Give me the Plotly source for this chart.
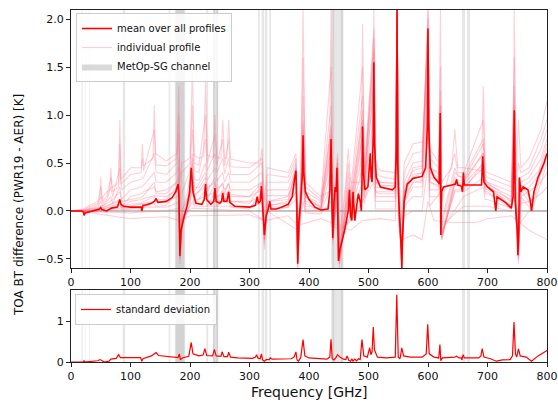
import plotly.graph_objects as go

# ---------------- data ----------------
# mean over all profiles: (frequency GHz, BT difference K)
mean_pts = [
    (0, 0), (18, 0), (21, -0.01), (22, -0.045), (24, -0.02), (30, -0.01), (45, 0.01), (48, 0.02),
    (50, 0.035), (52, 0.015), (60, 0.0), (65, 0.02), (68, 0.03), (78, 0.04), (80, 0.08), (82, 0.12),
    (84, 0.07), (88, 0.05), (100, 0.04), (118, 0.04), (119, 0.0), (121, 0.06), (124, 0.06), (135, 0.08),
    (140, 0.1), (143, 0.13), (146, 0.09), (160, 0.1), (170, 0.14), (176, 0.2), (180, 0.28), (181.5, 0.15),
    (183, -0.47), (185, -0.2), (190, -0.06), (195, 0.05), (199, 0.18), (202, 0.45), (205, 0.2), (210, 0.08),
    (220, 0.07), (224, 0.12), (226, 0.28), (228, 0.12), (235, 0.07), (240, 0.1), (242, 0.24), (244, 0.1),
    (250, 0.08), (253, 0.1), (255, 0.19), (257, 0.1), (262, 0.1), (265, 0.2), (267, 0.09), (275, 0.05),
    (300, 0.04), (310, 0.06), (313, 0.15), (315, 0.08), (318, 0.1), (320, 0.26), (322, 0.05), (325, -0.25),
    (328, -0.05), (332, 0.03), (334, 0.1), (336, 0.02), (345, 0.02), (350, 0.03), (365, 0.07), (372, 0.15),
    (376, 0.35), (378, 0.42), (379.5, 0.1), (381, -0.55), (383, -0.1), (386, 0.1), (389, 0.4), (390, 0.79),
    (391, 0.4), (394, 0.2), (400, 0.12), (410, 0.04), (420, 0.01), (432, 0.02), (435, 0.2), (437, 0.75),
    (438.5, 0.1), (440, -0.28), (442, 0.1), (444, 0.25), (446, 0.2), (447, 0.45), (448, 0.1), (449.5, -0.52),
    (452, -0.4), (460, -0.2), (466, 0.0), (468, 0.22), (470, -0.05), (472, -0.1), (474, 0.2), (476, 0.05),
    (477, -0.1), (480, 0.05), (483, 0.18), (486, 0.1), (488, 0.0), (489, 0.3), (490, 0.88), (491.5, 0.4),
    (494, 0.22), (499, 0.25), (502, 0.45), (503, 0.6), (504.5, 0.35), (506, 0.3), (508, 0.8), (509, 1.55),
    (510, 0.7), (513, 0.35), (520, 0.25), (540, 0.22), (545, 0.25), (547, 0.7), (548, 2.1), (549, 0.5),
    (551, 0.1), (553, -0.1), (555, -0.4), (556, -0.6), (557, -0.3), (560, 0.1), (565, 0.28), (575, 0.34),
    (590, 0.36), (596, 0.45), (599, 0.9), (600, 1.9), (601, 0.9), (604, 0.45), (610, 0.35), (617, 0.3),
    (619, 0.28), (620.5, 1.02), (621.5, -0.25), (623, 0.2), (626, 0.25), (640, 0.27), (646, 0.28),
    (648, 0.33), (650, 0.27), (656, 0.26), (658, 0.2), (659.5, 0.4), (661, 0.27), (664, 0.27), (690, 0.27),
    (692, 0.57), (694, 0.3), (700, 0.25), (710, 0.2), (714, 0.0), (716, 0.15), (730, 0.09), (740, 0.03),
    (743, 0.15), (745, 1.05), (746.5, 0.1), (748, -0.05), (750, -0.2), (751, -0.46), (752.5, -0.2),
    (753.5, 0.35), (756, 0.2), (760, 0.25), (768, 0.22), (772, 0.1), (774, 0.0), (778, 0.2), (785, 0.35),
    (795, 0.5), (800, 0.6),
]

# standard deviation over profiles
std_pts = [
    (0, 0), (18, 0.0), (21, 0.0), (22, 0.04), (23, 0.0), (30, 0.01), (45, 0.03), (49, 0.06), (52, 0.03),
    (56, 0.0), (64, 0.02), (67, 0.07), (76, 0.09), (80, 0.18), (83, 0.11), (95, 0.11), (117, 0.11),
    (119, 0.02), (121, 0.08), (135, 0.15), (143, 0.23), (147, 0.16), (170, 0.13), (180, 0.11), (182, 0.2),
    (184, 0.05), (187, 0.1), (198, 0.14), (202, 0.48), (205, 0.2), (215, 0.15), (222, 0.17), (225, 0.33),
    (228, 0.16), (238, 0.15), (241, 0.31), (244, 0.15), (252, 0.14), (254, 0.25), (257, 0.13), (263, 0.13),
    (265, 0.24), (268, 0.12), (280, 0.1), (305, 0.09), (310, 0.12), (312, 0.18), (314, 0.1), (318, 0.08),
    (320, 0.2), (322, 0.05), (325, 0.02), (328, 0.06), (333, 0.06), (335, 0.1), (338, 0.07), (370, 0.08),
    (375, 0.12), (378, 0.25), (380, 0.05), (382, 0.02), (386, 0.1), (390, 0.55), (393, 0.15), (400, 0.1),
    (430, 0.07), (435, 0.12), (437, 0.56), (439, 0.08), (442, 0.05), (445, 0.1), (448, 0.18), (452, 0.12),
    (458, 0.07), (462, 0.06), (464, 0.15), (467, 0.04), (470, 0.02), (472, 0.08), (474, 0.02), (477, 0.07),
    (480, 0.03), (483, 0.08), (486, 0.06), (489, 0.55), (492, 0.15), (498, 0.12), (502, 0.35), (504, 0.18),
    (506, 0.25), (508, 0.86), (510, 0.3), (515, 0.12), (530, 0.1), (545, 0.12), (547.5, 1.65), (550, 0.12),
    (553, 0.08), (556, 0.35), (559, 0.15), (570, 0.12), (590, 0.12), (597, 0.2), (599.5, 0.93), (602, 0.2),
    (610, 0.12), (618, 0.1), (620, 0.43), (621.5, 0.03), (624, 0.1), (645, 0.12), (648, 0.14), (652, 0.1),
    (656, 0.1), (657, 0.05), (659, 0.18), (661, 0.1), (685, 0.1), (689, 0.15), (691, 0.33), (694, 0.12),
    (705, 0.08), (715, 0.02), (725, 0.05), (738, 0.06), (742, 0.15), (744.5, 0.98), (747, 0.2), (749, 0.12),
    (752, 0.32), (755, 0.15), (765, 0.12), (774, 0.02), (785, 0.15), (800, 0.28),
]

# a selection of individual profiles
prof_a = [
    (0, 0), (20, 0.02), (45, 0.1), (48, 0.12), (50, 0.35), (52, 0.13), (60, 0.2), (65, 0.22), (67, 0.45),
    (69, 0.24), (80, 0.3), (82, 0.95), (84, 0.33), (100, 0.45), (118, 0.45), (120, 0.7), (122, 0.47),
    (138, 0.55), (140, 1.1), (142, 0.6), (160, 0.52), (178, 0.6), (181, 1.3), (183, 0.3), (186, 0.5),
    (200, 0.55), (204, 1.48), (207, 0.58), (215, 0.55), (223, 0.57), (226, 1.35), (229, 0.58), (239, 0.56),
    (242, 1.0), (245, 0.56), (252, 0.55), (255, 0.95), (258, 0.55), (262, 0.55), (265, 0.95), (268, 0.54),
    (300, 0.5), (318, 0.5), (321, 0.65), (325, 0.1), (330, 0.45), (365, 0.4), (378, 0.6), (381, -0.2),
    (386, 0.3), (390, 2.1), (394, 0.3), (420, 0.15), (434, 0.2), (437, 2.1), (440, 0.0), (448, 0.6),
    (451, -0.3), (462, 0.3), (466, 0.65), (470, 0.3), (487, 0.3), (490, 1.95), (493, 0.45), (506, 0.6),
    (509, 2.1), (512, 0.5), (520, 0.42), (545, 0.4), (548, 2.1), (551, 0.3), (556, -0.1), (560, 0.5),
    (575, 0.7), (590, 0.72), (598, 0.7), (600, 2.1), (603, 0.65), (618, 0.5), (621, 2.1), (623, 0.3),
    (640, 0.45), (645, 0.85), (650, 0.45), (660, 0.45), (690, 0.42), (693, 1.3), (696, 0.42), (700, 0.4),
    (740, 0.3), (743, 0.35), (745, 2.1), (748, 0.4), (752, 0.95), (756, 0.45), (770, 0.55), (790, 0.85),
    (800, 1.15),
]
prof_b = [
    (0, 0), (20, 0.01), (45, 0.08), (50, 0.25), (53, 0.1), (60, 0.15), (67, 0.35), (70, 0.2), (80, 0.25),
    (82, 0.7), (84, 0.28), (100, 0.38), (118, 0.4), (120, 0.55), (122, 0.42), (140, 0.85), (143, 0.48),
    (160, 0.47), (178, 0.55), (181, 1.0), (183, 0.0), (186, 0.4), (200, 0.5), (204, 1.1), (207, 0.5),
    (215, 0.48), (226, 1.0), (229, 0.5), (242, 0.8), (245, 0.48), (255, 0.75), (258, 0.47), (265, 0.75),
    (268, 0.46), (300, 0.45), (321, 0.55), (325, -0.1), (330, 0.38), (365, 0.35), (378, 0.55), (381, -0.4),
    (386, 0.25), (390, 1.6), (394, 0.25), (420, 0.12), (437, 1.5), (440, -0.1), (448, 0.55), (451, -0.45),
    (462, 0.2), (466, 0.5), (470, 0.2), (490, 1.5), (493, 0.4), (509, 1.9), (512, 0.4), (520, 0.36),
    (545, 0.33), (548, 2.1), (551, 0.2), (556, -0.3), (560, 0.4), (575, 0.6), (590, 0.62), (600, 1.9),
    (603, 0.55), (618, 0.45), (621, 1.5), (623, 0.1), (645, 0.6), (650, 0.4), (660, 0.4), (693, 0.95),
    (696, 0.38), (700, 0.35), (740, 0.25), (745, 1.6), (748, 0.3), (752, 0.5), (756, 0.4), (770, 0.45),
    (790, 0.75), (800, 0.95),
]
prof_c = [
    (0, 0), (20, 0.0), (45, 0.06), (50, 0.15), (53, 0.08), (60, 0.12), (67, 0.25), (70, 0.15), (82, 0.45),
    (85, 0.22), (100, 0.3), (118, 0.33), (122, 0.35), (140, 0.6), (143, 0.4), (160, 0.38), (178, 0.5),
    (181, 0.8), (183, -0.3), (187, 0.2), (200, 0.42), (204, 0.85), (207, 0.42), (215, 0.4), (226, 0.75),
    (229, 0.42), (242, 0.6), (245, 0.4), (255, 0.55), (258, 0.39), (265, 0.55), (268, 0.38), (300, 0.38),
    (321, 0.5), (325, -0.3), (330, 0.3), (365, 0.3), (378, 0.5), (381, -0.55), (386, 0.2), (390, 1.2),
    (394, 0.2), (420, 0.1), (437, 1.1), (440, -0.2), (448, 0.5), (451, -0.55), (462, 0.15), (466, 0.4),
    (470, 0.15), (490, 1.2), (493, 0.35), (509, 1.7), (512, 0.35), (520, 0.3), (545, 0.3), (548, 2.1),
    (551, 0.1), (556, -0.5), (560, 0.3), (575, 0.5), (590, 0.52), (600, 1.9), (603, 0.45), (618, 0.4),
    (621, 1.1), (623, -0.1), (645, 0.45), (650, 0.36), (660, 0.36), (693, 0.75), (696, 0.33), (700, 0.3),
    (740, 0.2), (745, 1.3), (748, 0.2), (752, -0.3), (756, 0.35), (770, 0.4), (790, 0.65), (800, 0.85),
]
prof_d = [
    (0, 0), (20, 0), (45, 0.04), (50, 0.1), (53, 0.05), (67, 0.15), (70, 0.08), (82, 0.25), (85, 0.12),
    (100, 0.22), (118, 0.25), (122, 0.27), (140, 0.4), (143, 0.3), (160, 0.3), (178, 0.4), (181, 0.55),
    (183, -0.5), (187, 0.0), (200, 0.32), (204, 0.6), (207, 0.33), (215, 0.32), (226, 0.5), (229, 0.32),
    (242, 0.45), (245, 0.31), (255, 0.4), (258, 0.3), (265, 0.4), (268, 0.3), (300, 0.3), (321, 0.4),
    (325, -0.4), (330, 0.22), (365, 0.22), (378, 0.45), (381, -0.59), (386, 0.15), (390, 0.9), (394, 0.15),
    (420, 0.08), (437, 0.85), (440, -0.3), (448, 0.45), (451, -0.59), (462, 0.1), (466, 0.3), (470, 0.1),
    (490, 0.95), (493, 0.3), (509, 1.5), (512, 0.3), (520, 0.27), (545, 0.26), (548, 2.1), (551, 0.05),
    (556, -0.59), (560, 0.25), (575, 0.42), (590, 0.45), (600, 1.9), (603, 0.4), (618, 0.35), (621, 1.0),
    (623, -0.25), (645, 0.35), (650, 0.32), (660, 0.32), (693, 0.6), (696, 0.3), (700, 0.28), (740, 0.15),
    (745, 1.05), (748, 0.1), (752, -0.5), (756, 0.3), (770, 0.35), (790, 0.55), (800, 0.75),
]
prof_e = [
    (0, 0), (20, 0), (22, -0.04), (24, 0), (45, 0.02), (50, 0.05), (53, 0.03), (82, 0.12), (85, 0.05),
    (100, 0.15), (118, 0.18), (122, 0.2), (140, 0.25), (143, 0.2), (160, 0.22), (178, 0.3), (181, 0.35),
    (183, -0.55), (187, -0.1), (200, 0.24), (204, 0.45), (207, 0.25), (215, 0.24), (226, 0.35), (229, 0.24),
    (242, 0.3), (245, 0.23), (255, 0.28), (258, 0.22), (265, 0.28), (268, 0.22), (300, 0.22), (321, 0.3),
    (325, -0.35), (330, 0.16), (365, 0.16), (378, 0.4), (381, -0.55), (386, 0.1), (390, 0.7), (394, 0.1),
    (420, 0.05), (437, 0.7), (440, -0.35), (448, 0.4), (451, -0.55), (466, 0.2), (470, 0.05), (490, 0.8),
    (493, 0.26), (509, 1.3), (512, 0.25), (520, 0.24), (545, 0.22), (548, 2.1), (551, 0.0), (556, -0.59),
    (560, 0.2), (575, 0.35), (590, 0.4), (600, 1.7), (603, 0.35), (618, 0.3), (621, 0.9), (623, -0.3),
    (645, 0.3), (650, 0.28), (660, 0.28), (693, 0.5), (696, 0.26), (700, 0.25), (740, 0.12), (745, 0.9),
    (748, 0.0), (752, -0.55), (756, 0.25), (770, 0.3), (790, 0.45), (800, 0.65),
]
prof_f = [
    (0, 0), (20, 0), (45, 0.01), (82, 0.06), (85, 0.03), (100, 0.1), (118, 0.12), (122, 0.13), (140, 0.16),
    (160, 0.15), (178, 0.22), (181, 0.25), (183, -0.45), (187, -0.15), (200, 0.16), (204, 0.3), (207, 0.17),
    (226, 0.25), (229, 0.16), (242, 0.2), (245, 0.15), (265, 0.18), (268, 0.15), (300, 0.15), (321, 0.22),
    (325, -0.3), (330, 0.1), (365, 0.12), (378, 0.3), (381, -0.5), (386, 0.05), (390, 0.55), (394, 0.05),
    (420, 0.03), (437, 0.55), (440, -0.3), (448, 0.3), (451, -0.5), (466, 0.1), (470, 0.0), (490, 0.6),
    (493, 0.22), (509, 1.0), (512, 0.2), (520, 0.2), (545, 0.2), (548, 1.8), (551, -0.05), (556, -0.5),
    (560, 0.15), (575, 0.3), (590, 0.32), (600, 1.4), (603, 0.3), (618, 0.27), (621, 0.8), (623, -0.3),
    (645, 0.27), (660, 0.25), (693, 0.45), (696, 0.23), (700, 0.22), (740, 0.1), (745, 0.8), (748, -0.05),
    (752, -0.45), (756, 0.2), (770, 0.25), (790, 0.4), (800, 0.55),
]
prof_g = [
    (0, 0), (20, 0), (45, 0.0), (82, 0.03), (100, 0.05), (118, 0.07), (122, 0.08), (140, 0.1), (160, 0.09),
    (178, 0.15), (181, 0.18), (183, -0.35), (187, -0.15), (200, 0.1), (204, 0.2), (207, 0.11), (226, 0.15),
    (229, 0.1), (265, 0.1), (300, 0.1), (321, 0.15), (325, -0.2), (330, 0.06), (365, 0.08), (378, 0.2),
    (381, -0.4), (386, 0.02), (390, 0.4), (394, 0.02), (420, 0.02), (437, 0.4), (440, -0.25), (448, 0.2),
    (451, -0.4), (466, 0.0), (470, -0.02), (490, 0.45), (493, 0.15), (509, 0.8), (512, 0.15), (520, 0.15),
    (545, 0.15), (548, 1.5), (551, -0.1), (556, -0.45), (560, 0.1), (575, 0.25), (590, 0.25), (600, 1.1),
    (603, 0.22), (618, 0.22), (621, 0.6), (623, -0.25), (645, 0.2), (660, 0.2), (693, 0.35), (696, 0.18),
    (700, 0.18), (740, 0.06), (745, 0.6), (748, -0.1), (752, -0.35), (756, 0.15), (770, 0.2), (790, 0.3),
    (800, 0.4),
]
prof_h = [
    (0, 0), (20, 0), (45, 0), (100, 0.02), (118, 0.03), (122, 0.04), (160, 0.04), (178, 0.08), (181, 0.1),
    (183, -0.25), (187, -0.1), (200, 0.05), (204, 0.1), (207, 0.05), (265, 0.05), (300, 0.05), (321, 0.08),
    (325, -0.15), (330, 0.04), (365, 0.04), (378, 0.12), (381, -0.3), (386, 0.0), (390, 0.25), (394, 0.0),
    (420, 0.0), (437, 0.25), (440, -0.2), (448, 0.1), (451, -0.3), (470, -0.05), (490, 0.3), (493, 0.08),
    (509, 0.55), (512, 0.1), (520, 0.1), (545, 0.1), (548, 1.1), (551, -0.1), (556, -0.35), (560, 0.05),
    (575, 0.15), (590, 0.15), (600, 0.8), (603, 0.15), (618, 0.15), (621, 0.4), (623, -0.2), (660, 0.15),
    (693, 0.25), (696, 0.12), (700, 0.12), (740, 0.03), (745, 0.4), (748, -0.1), (752, -0.25), (756, 0.08),
    (770, 0.1), (790, 0.18), (800, 0.25),
]
prof_i = [
    (0, 0), (20, 0), (45, -0.01), (100, -0.02), (120, -0.01), (160, 0.0), (181, 0.03), (183, -0.15),
    (187, -0.05), (204, 0.03), (300, 0.0), (325, -0.1), (330, 0.0), (381, -0.2), (390, 0.1), (394, -0.02),
    (420, -0.03), (437, 0.1), (440, -0.15), (451, -0.2), (470, -0.1), (490, 0.1), (509, 0.3), (512, 0.02),
    (545, 0.02), (548, 0.7), (551, -0.15), (556, -0.3), (560, -0.05), (575, 0.0), (590, 0.0), (600, 0.5),
    (603, 0.05), (621, 0.2), (623, -0.15), (660, 0.05), (700, 0.05), (740, 0.0), (745, 0.2), (752, -0.15),
    (770, 0.0), (800, 0.0),
]
prof_j = [
    (0, 0), (20, 0), (45, -0.03), (100, -0.08), (120, -0.07), (160, -0.06), (183, -0.1), (200, -0.05),
    (300, -0.04), (325, -0.1), (365, -0.05), (381, -0.15), (420, -0.08), (451, -0.15), (470, -0.2),
    (490, -0.1), (520, -0.08), (545, -0.1), (548, 0.3), (556, -0.3), (575, -0.25), (590, -0.3), (600, 0.1),
    (610, -0.1), (640, -0.12), (680, -0.12), (700, -0.08), (740, -0.05), (770, -0.2), (800, -0.3),
]
prof_k = [
    (0, 0), (20, 0), (45, 0.02), (82, 0.1), (85, 0.05), (100, 0.07), (118, 0.08), (122, 0.1), (140, 0.15),
    (143, 0.12), (160, 0.12), (178, 0.25), (181, 0.3), (183, -0.5), (187, -0.1), (200, 0.12), (204, 0.5),
    (207, 0.14), (226, 0.3), (229, 0.12), (242, 0.28), (245, 0.12), (255, 0.22), (258, 0.11), (265, 0.22),
    (268, 0.1), (300, 0.08), (321, 0.28), (325, -0.3), (330, 0.05), (365, 0.1), (378, 0.45), (381, -0.59),
    (386, 0.1), (390, 0.85), (394, 0.15), (420, 0.03), (437, 0.8), (440, -0.3), (448, 0.5), (451, -0.55),
    (466, 0.2), (470, -0.05), (490, 0.95), (493, 0.25), (509, 1.65), (512, 0.3), (520, 0.26), (545, 0.26),
    (548, 2.1), (551, 0.1), (556, -0.59), (560, 0.15), (575, 0.38), (590, 0.4), (600, 2.0), (603, 0.4),
    (618, 0.32), (621, 1.1), (623, -0.28), (645, 0.3), (660, 0.3), (693, 0.6), (696, 0.28), (700, 0.27),
    (740, 0.05), (745, 1.1), (748, -0.05), (752, -0.5), (756, 0.22), (775, 0.05), (790, 0.4), (800, 0.6),
]
prof_l = [
    (0, 0), (20, 0), (45, 0.0), (82, 0.08), (85, 0.02), (100, 0.02), (118, 0.02), (122, 0.04), (140, 0.08),
    (143, 0.05), (160, 0.06), (178, 0.2), (181, 0.22), (183, -0.45), (187, -0.12), (200, 0.06), (204, 0.4),
    (207, 0.06), (226, 0.22), (229, 0.05), (242, 0.2), (245, 0.05), (265, 0.15), (268, 0.04), (300, 0.02),
    (321, 0.2), (325, -0.25), (330, 0.0), (365, 0.04), (378, 0.35), (381, -0.5), (386, 0.05), (390, 0.7),
    (394, 0.08), (420, 0.0), (437, 0.65), (440, -0.3), (448, 0.4), (451, -0.5), (466, 0.15), (470, -0.1),
    (490, 0.8), (493, 0.15), (509, 1.4), (512, 0.2), (520, 0.18), (545, 0.18), (548, 2.1), (551, 0.05),
    (556, -0.55), (560, 0.1), (575, 0.3), (590, 0.3), (600, 1.7), (603, 0.3), (618, 0.25), (621, 0.9),
    (623, -0.25), (645, 0.22), (660, 0.22), (693, 0.5), (696, 0.2), (700, 0.2), (740, 0.02), (745, 0.95),
    (748, -0.1), (752, -0.45), (756, 0.15), (775, 0.0), (790, 0.3), (800, 0.5),
]
prof_m = [
    (0, 0), (20, 0.01), (45, 0.03), (67, 0.1), (82, 0.2), (85, 0.1), (100, 0.12), (118, 0.14), (122, 0.16),
    (140, 0.3), (143, 0.18), (160, 0.18), (178, 0.3), (181, 0.45), (183, -0.4), (187, 0.0), (200, 0.2),
    (204, 0.55), (207, 0.2), (226, 0.4), (229, 0.2), (242, 0.35), (245, 0.19), (255, 0.3), (258, 0.18),
    (265, 0.3), (268, 0.17), (300, 0.15), (321, 0.3), (325, -0.2), (330, 0.1), (365, 0.15), (378, 0.4),
    (381, -0.45), (386, 0.12), (390, 0.95), (394, 0.15), (420, 0.04), (437, 0.9), (440, -0.2), (448, 0.45),
    (451, -0.45), (466, 0.25), (470, 0.05), (490, 1.05), (493, 0.3), (509, 1.8), (512, 0.3), (520, 0.3),
    (545, 0.28), (548, 2.1), (551, 0.1), (556, -0.45), (560, 0.2), (575, 0.45), (590, 0.47), (600, 2.1),
    (603, 0.45), (618, 0.38), (621, 1.25), (623, -0.15), (645, 0.4), (660, 0.33), (693, 0.7), (696, 0.3),
    (700, 0.3), (740, 0.1), (745, 1.2), (748, 0.05), (752, -0.35), (756, 0.28), (775, 0.1), (790, 0.5),
    (800, 0.7),
]
individual_profiles = [prof_a, prof_b, prof_c, prof_d, prof_e, prof_f, prof_g, prof_h, prof_i, prof_j,
                       prof_k, prof_l, prof_m]

# MetOp-SG channel pass bands (GHz)
channel_bands = [
    (17.8, 19.6), (23.4, 24.2), (30.9, 31.9), (87.0, 91.0), (164.1, 165.4), (165.6, 166.9),
    (174.5, 192.0), (176.0, 190.5), (227.5, 230.5), (238.5, 247.5), (239.2, 242.2),
    (244.2, 247.2), (314.2, 317.2), (320.5, 324.5), (325.9, 329.9), (333.2, 336.2),
    (437.5, 458.0), (439.3, 442.3), (453.7, 456.7), (657.3, 662.3), (665.7, 670.7),
]

x_ticks = [0, 100, 200, 300, 400, 500, 600, 700, 800]
y_ticks_top = [-0.5, 0.0, 0.5, 1.0, 1.5, 2.0]
y_ticks_bot = [0, 1]

# ---------------- layout geometry ----------------
W, H = 558, 403
L, R, T, B = 71, 11, 10, 41
PH = H - T - B
PW = W - L - R


def paper_y(px):
    return (H - B - px) / PH


def paper_x(px):
    return (px - L) / PW


top_dom = [paper_y(268), 1.0]
bot_dom = [0.0, paper_y(290)]
FONT = "DejaVu Sans"

fig = go.Figure()

for i, prof in enumerate(individual_profiles):
    fig.add_trace(go.Scatter(
        x=[p[0] for p in prof], y=[p[1] for p in prof], mode="lines",
        line=dict(color="rgba(255,105,130,0.32)", width=1.1),
        name="individual profile", legendgroup="ind", showlegend=(i == 0), legendrank=2,
        hoverinfo="skip", xaxis="x", yaxis="y"))

fig.add_trace(go.Scatter(
    x=[None], y=[None], mode="lines", fill="toself", fillcolor="rgba(128,128,128,0.3)",
    line=dict(width=0, color="rgba(128,128,128,0.3)"), name="MetOp-SG channel", legendrank=3,
    xaxis="x", yaxis="y"))

fig.add_trace(go.Scatter(
    x=[p[0] for p in mean_pts], y=[p[1] for p in mean_pts], mode="lines",
    line=dict(color="#ff0000", width=1.6), name="mean over all profiles", legendrank=1,
    xaxis="x", yaxis="y"))

fig.add_trace(go.Scatter(
    x=[p[0] for p in std_pts], y=[p[1] for p in std_pts], mode="lines",
    line=dict(color="#ff0000", width=1.2), name="standard deviation",
    xaxis="x2", yaxis="y2", legend="legend2"))

shapes = []
for lo, hi in channel_bands:
    for xr, yr in (("x", "y domain"), ("x2", "y2 domain")):
        shapes.append(dict(type="rect", xref=xr, yref=yr, x0=lo, x1=hi, y0=0, y1=1,
                           fillcolor="rgba(128,128,128,0.2)", line=dict(width=0), layer="below"))
shapes.append(dict(type="line", xref="x", yref="y", x0=0, x1=800, y0=0, y1=0,
                   line=dict(color="rgba(110,110,110,0.8)", width=1), layer="below"))

axis_common = dict(showline=True, linecolor="#222", linewidth=1, mirror=True, ticks="outside",
                   ticklen=4, tickcolor="#222", showgrid=False, zeroline=False, automargin=False,
                   tickfont=dict(family=FONT, size=11, color="#111"))

legend_common = dict(bgcolor="rgba(255,255,255,0.85)", bordercolor="#cccccc", borderwidth=1,
                     font=dict(family=FONT, size=10, color="#111"), xanchor="left", yanchor="top",
                     itemwidth=30, tracegroupgap=0)

fig.update_layout(
    width=W, height=H, margin=dict(l=L, r=R, t=T, b=B, autoexpand=False),
    paper_bgcolor="white", plot_bgcolor="white",
    font=dict(family=FONT, color="#111"),
    showlegend=True,
    xaxis=dict(domain=[0, 1], anchor="y", range=[0, 800], tickvals=x_ticks, **axis_common),
    yaxis=dict(domain=top_dom, anchor="x", range=[-0.594, 2.094], tickvals=y_ticks_top,
               tickformat=".1f", **axis_common),
    xaxis2=dict(domain=[0, 1], anchor="y2", range=[0, 800], tickvals=x_ticks, **axis_common),
    yaxis2=dict(domain=bot_dom, anchor="x2", range=[0, 1.77], tickvals=y_ticks_bot, **axis_common),
    legend=dict(x=paper_x(76), y=paper_y(13), traceorder="normal", **legend_common),
    legend2=dict(x=paper_x(75), y=paper_y(294), **legend_common),
    shapes=shapes,
    annotations=[
        dict(text="TOA BT difference (PWR19 - AER) [K]", xref="paper", yref="paper",
             x=paper_x(19), y=paper_y(205), textangle=-90, showarrow=False,
             xanchor="center", yanchor="middle", font=dict(family=FONT, size=12, color="#111")),
        dict(text="Frequency [GHz]", xref="paper", yref="paper", x=0.5, y=paper_y(392),
             showarrow=False, xanchor="center", yanchor="middle",
             font=dict(family=FONT, size=14, color="#111")),
    ],
)

fig.write_html("out.html", config={"displayModeBar": False},
               post_script="document.body.style.margin='0';document.body.style.overflow='hidden';")
